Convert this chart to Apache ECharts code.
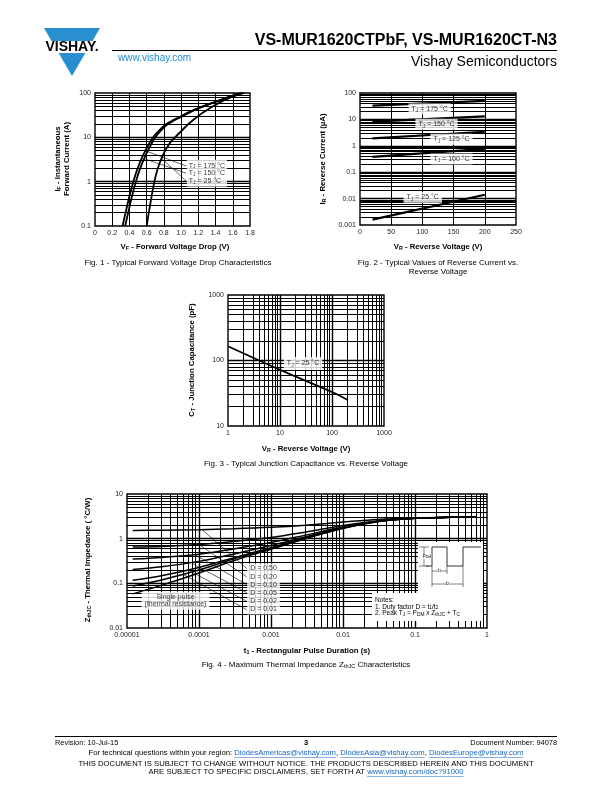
<!DOCTYPE html>
<html><head><meta charset="utf-8">
<script src="https://cdn.jsdelivr.net/npm/echarts@6/dist/echarts.min.js"></script>
<style>html,body{margin:0;padding:0;background:#fff}#c{width:612px;height:792px}</style>
</head><body><div id="c"></div>
<script>
// ---------- Fig. 1 data: forward voltage (V) vs forward current (A) ----------
const fig1XTicks = ['0','0.2','0.4','0.6','0.8','1.0','1.2','1.4','1.6','1.8'];
const fig1YTicks = ['0.1','1','10','100'];
const fig1T175 = [[0.32,0.1],[0.355,0.2],[0.403,0.5],[0.445,1],[0.495,2],[0.56,4],[0.625,7],[0.675,10],[0.74,14],[0.83,20],[1.0,30],[1.13,40],[1.25,50],[1.36,60],[1.46,70],[1.58,85],[1.69,100]];
const fig1T150 = [[0.35,0.1],[0.385,0.2],[0.433,0.5],[0.475,1],[0.525,2],[0.59,4],[0.653,7],[0.70,10],[0.762,14],[0.85,20],[1.015,30],[1.142,40],[1.26,50],[1.37,60],[1.47,70],[1.59,85],[1.70,100]];
const fig1T25  = [[0.60,0.1],[0.625,0.2],[0.66,0.5],[0.69,1],[0.73,2],[0.79,4],[0.86,7],[0.93,10],[1.005,14],[1.085,20],[1.195,30],[1.29,40],[1.37,50],[1.44,60],[1.51,70],[1.62,85],[1.73,100]];
const fig1Labels = ['T{s|J} = 175 °C','T{s|J} = 150 °C','T{s|J} = 25 °C'];
const fig1LabelAnchor = [1.06, 1.55];
const fig1Leaders = [[[0.585,5.0],[1.06,2.25]],[[0.57,3.3],[1.06,1.55]],[[0.77,3.4],[1.06,1.03]]];

// ---------- Fig. 2 data: reverse voltage (V) vs reverse current (uA) ----------
const fig2XTicks = ['0','50','100','150','200','250'];
const fig2YTicks = ['0.001','0.01','0.1','1','10','100'];
const fig2VR = [20, 200];
const fig2I175 = [33, 50];
const fig2I150 = [8.2, 13];
const fig2I125 = [1.9, 3.4];
const fig2I100 = [0.38, 0.76];
const fig2I25  = [0.0016, 0.014];
const fig2Labels = ['T{s|J} = 175 °C','T{s|J} = 150 °C','T{s|J} = 125 °C','T{s|J} = 100 °C','T{s|J} = 25 °C'];
const fig2LabelPos = [[77,24.8],[88,6.5],[112,1.76],[112,0.316],[69,0.0112]];

// ---------- Fig. 3 data: reverse voltage (V) vs capacitance (pF) ----------
const fig3XTicks = ['1','10','100','1000'];
const fig3YTicks = ['10','100','1000'];
const fig3VR = [1, 10, 100, 200];
const fig3C  = [165, 72, 33, 25];
const fig3Label = 'T{s|J} = 25 °C';
const fig3LabelPos = [11.6, 90];

// ---------- Fig. 4 data: pulse duration (s) vs Zth (°C/W) ----------
const fig4XTicks = ['0.00001','0.0001','0.001','0.01','0.1','1'];
const fig4YTicks = ['0.01','0.1','1','10'];
const fig4T     = [1.2e-5, 3e-5, 1e-4, 3e-4, 1e-3, 3e-3, 1e-2, 3e-2, 0.1, 0.3, 0.7];
const fig4D050  = [1.53, 1.55, 1.59, 1.66, 1.79, 2.0, 2.35, 2.7, 2.92, 3.0, 3.05];
const fig4D020  = [0.65, 0.67, 0.74, 0.86, 1.06, 1.4, 1.96, 2.5, 2.87, 3.0, 3.05];
const fig4D010  = [0.35, 0.38, 0.45, 0.59, 0.82, 1.2, 1.83, 2.46, 2.86, 3.0, 3.05];
const fig4D005  = [0.205, 0.235, 0.31, 0.45, 0.70, 1.1, 1.77, 2.43, 2.86, 3.0, 3.05];
const fig4D002  = [0.117, 0.148, 0.227, 0.37, 0.63, 1.04, 1.73, 2.41, 2.85, 3.0, 3.05];
const fig4D001  = [0.087, 0.119, 0.198, 0.35, 0.60, 1.02, 1.71, 2.41, 2.85, 3.0, 3.05];
const fig4Single= [0.058, 0.09, 0.17, 0.32, 0.58, 1.0, 1.7, 2.4, 2.85, 3.0, 3.05];
const fig4DLabels = ['D = 0.50','D = 0.20','D = 0.10','D = 0.05','D = 0.02','D = 0.01'];
const fig4DLabelAnchor = [4.6e-4, 0.0746];
const fig4LeaderStart = [[1.1e-4,1.6],[1.0e-4,0.74],[9e-5,0.43],[8e-5,0.28],[7e-5,0.2],[6e-5,0.16]];
const fig4LeaderEnd = [[4.6e-4,0.216],[4.6e-4,0.14],[4.6e-4,0.094],[4.6e-4,0.062],[4.6e-4,0.0396],[4.6e-4,0.0257]];
const fig4SingleLabel = 'Single pulse\n(thermal resistance)';
const fig4SingleLabelPos = [4.72e-5, 0.0407];

// ---------- helpers ----------
const FF = '"Liberation Sans", Arial, Helvetica, sans-serif';
const zip = (xs, ys) => xs.map((x, i) => [x, ys[i]]);
const RICH = { s: { fontSize: 5, lineHeight: 5, verticalAlign: 'bottom', fontFamily: FF, color: '#000' } };
const RICHB = { s: { fontSize: 5.3, lineHeight: 5, verticalAlign: 'bottom', fontFamily: FF, fontWeight: 'bold', color: '#000' } };

function logVals(lo, hi) { // interior grid values between 10^lo and 10^hi
  const out = [];
  for (let e = lo; e < hi; e++) for (let k = 1; k <= 9; k++) {
    if (k === 1 && e === lo) continue;
    out.push({ v: Number((k * Math.pow(10, e)).toPrecision(3)), major: k === 1 });
  }
  return out;
}
function linVals(list) { return list.map(v => ({ v, major: false })); }
function gridSeries(idx, xs, ys) {
  const data = [];
  xs.forEach(o => data.push({ xAxis: o.v, lineStyle: { width: o.major ? 1.4 : 1 } }));
  ys.forEach(o => data.push({ yAxis: o.v, lineStyle: { width: o.major ? 1.4 : 1 } }));
  return { type: 'line', xAxisIndex: idx, yAxisIndex: idx, data: [], z: 1, silent: true,
    markLine: { z: 1, silent: true, precision: 12, symbol: ['none', 'none'], animation: false, label: { show: false },
      emphasis: { disabled: true }, lineStyle: { color: '#000', type: 'solid', width: 1 }, data } };
}
function curve(idx, data, w, sm) {
  return { type: 'line', xAxisIndex: idx, yAxisIndex: idx, data, z: 3, showSymbol: false, symbol: 'none',
    smooth: sm == null ? 0.3 : sm, silent: true, lineStyle: { color: '#000', width: w || 1.8 }, emphasis: { disabled: true } };
}
function leader(idx, a, b) {
  return { type: 'line', xAxisIndex: idx, yAxisIndex: idx, data: [a, b], z: 4, symbol: 'none', silent: true,
    lineStyle: { color: '#000', width: 0.6 }, emphasis: { disabled: true } };
}
function label(idx, pos, text, opt) {
  opt = opt || {};
  return { type: 'scatter', xAxisIndex: idx, yAxisIndex: idx, z: 6, symbolSize: 1, silent: true,
    itemStyle: { color: 'rgba(0,0,0,0)' }, data: [pos],
    label: { show: true, position: opt.position || 'right', distance: 0, formatter: text,
      color: '#000', fontSize: opt.fontSize || 7, fontFamily: FF, lineHeight: opt.lineHeight || 9,
      backgroundColor: '#fff', padding: opt.padding || [1, 2], align: opt.align, rich: RICH } };
}
const axisLab = (fmt) => ({ show: true, fontSize: 7, color: '#222', fontFamily: FF, margin: 4, formatter: fmt, showMinLabel: true, showMaxLabel: true });
const logFmt = (labels, lo) => (v) => labels[Math.round(Math.log10(v)) - lo] || '';
const hid = { axisLine: { show: false }, axisTick: { show: false }, splitLine: { show: false }, minorTick: { show: false } };
const gridBase = { show: true, borderColor: '#000', borderWidth: 1.4, backgroundColor: 'transparent', containLabel: false, outerBoundsMode: 'none' };

// ---------- text measuring for footer ----------
const mctx = document.createElement('canvas').getContext('2d');
function tw(s, size, bold) { mctx.font = (bold ? 'bold ' : '') + size + 'px ' + FF; return mctx.measureText(s).width; }

const graphics = [];
function txt(x, y, text, o) {
  o = o || {};
  graphics.push({ type: 'text', x, y, rotation: o.rot || 0, z: 10, silent: true,
    style: { text, fill: o.fill || '#000', font: (o.bold ? 'bold ' : '') + (o.size || 7) + 'px ' + FF,
      align: o.align || 'center', verticalAlign: o.va || 'middle', rich: o.rich, lineHeight: o.lh,
      backgroundColor: o.bg, padding: o.pad } });
}
function line(x1, y1, x2, y2, w, color) {
  graphics.push({ type: 'line', z: 10, silent: true, shape: { x1, y1, x2, y2 }, style: { stroke: color || '#000', lineWidth: w || 1 } });
}
function rect(x, y, w, h) {
  graphics.push({ type: 'rect', z: 9, silent: true, shape: { x, y, width: w, height: h }, style: { fill: '#fff' } });
}

// ---------- header ----------
const BLUE = '#2a8fd0';
graphics.push({ type: 'polygon', z: 10, silent: true, shape: { points: [[44,28],[100,28],[92.5,41],[51.5,41]] }, style: { fill: BLUE } });
graphics.push({ type: 'polygon', z: 10, silent: true, shape: { points: [[58.6,53],[85.4,53],[72,76]] }, style: { fill: BLUE } });
txt(72, 47, 'VISHAY.', { bold: true, size: 14 });
txt(557, 41, 'VS-MUR1620CTPbF, VS-MUR1620CT-N3', { bold: true, size: 16, align: 'right' });
line(112, 50.5, 557, 50.5, 1);
txt(118, 58, 'www.vishay.com', { size: 10, fill: '#1c8ad8', align: 'left' });
txt(557, 62, 'Vishay Semiconductors', { size: 14, align: 'right' });

// ---------- chart titles / captions ----------
const RB = { rich: RICHB };
const TS = 7.8, CS = 8;
txt(175, 247, 'V{s|F} - Forward Voltage Drop (V)', { bold: true, size: TS, ...RB });
txt(178, 263, 'Fig. 1 - Typical Forward Voltage Drop Characteristics', { size: CS });
txt(58, 159, 'I{s|F} - Instantaneous', { bold: true, size: TS, rot: Math.PI / 2, ...RB });
txt(67, 159, 'Forward Current (A)', { bold: true, size: TS, rot: Math.PI / 2 });

txt(438, 247, 'V{s|R} - Reverse Voltage (V)', { bold: true, size: TS, ...RB });
txt(438, 263, 'Fig. 2 - Typical Values of Reverse Current vs.', { size: CS });
txt(438, 272, 'Reverse Voltage', { size: CS });
txt(323, 159, 'I{s|R} - Reverse Current (µA)', { bold: true, size: TS, rot: Math.PI / 2, ...RB });

txt(306, 449, 'V{s|R} - Reverse Voltage (V)', { bold: true, size: TS, ...RB });
txt(306, 464, 'Fig. 3 - Typical Junction Capacitance vs. Reverse Voltage', { size: CS });
txt(192, 360, 'C{s|T} - Junction Capacitance (pF)', { bold: true, size: TS, rot: Math.PI / 2, ...RB });

txt(307, 651, 't{s|1} - Rectangular Pulse Duration (s)', { bold: true, size: TS, ...RB });
txt(306, 665, 'Fig. 4 - Maximum Thermal Impedance Z{s|thJC} Characteristics', { size: CS, rich: { s: { fontSize: 5.5, lineHeight: 5, verticalAlign: 'bottom', fontFamily: FF } } });
txt(88, 560, 'Z{s|thJC} - Thermal Impedance ( °C/W)', { bold: true, size: TS, rot: Math.PI / 2, ...RB });

// ---------- Fig. 4 inset (waveform + notes) ----------
rect(418, 542, 65, 52);
rect(372, 593, 111, 28);
graphics.push({ type: 'polyline', z: 10, silent: true, shape: { points: [[426,566],[432,566],[432,547],[447,547],[447,566],[463,566],[463,547],[481,547]] }, style: { stroke: '#000', lineWidth: 0.8, fill: null } });
line(419, 547, 429, 547, 0.5); line(419, 566, 429, 566, 0.5); line(424, 547, 424, 566, 0.5);
const RS = { s: { fontSize: 3.5, lineHeight: 4, verticalAlign: 'bottom', fontFamily: FF } };
txt(427, 556.5, 'P{s|DM}', { size: 4.5, bg: '#fff', rich: RS });
line(432, 566, 432, 587, 0.5); line(447, 566, 447, 574, 0.5); line(463, 566, 463, 587, 0.5);
line(432, 571, 447, 571, 0.5); line(432, 584, 463, 584, 0.5);
txt(439.5, 571, 't{s|1}', { size: 5, bg: '#fff', rich: RS });
txt(447.5, 584, 't{s|2}', { size: 5, bg: '#fff', rich: RS });
const RN = { s: { fontSize: 4.8, lineHeight: 4.8, verticalAlign: 'bottom', fontFamily: FF } };
txt(375, 600.5, 'Notes:', { size: 6.5, align: 'left' });
txt(375, 607, '1. Duty factor D = t{s|1}/t{s|2}', { size: 6.5, align: 'left', rich: RN });
txt(375, 613.5, '2. Peak T{s|J} = P{s|DM} x Z{s|thJC} + T{s|C}', { size: 6.5, align: 'left', rich: RN });

// ---------- footer ----------
const FS = 7.7;
line(55, 736.5, 557, 736.5, 1);
txt(55, 743, 'Revision: 10-Jul-15', { size: 7.4, align: 'left' });
txt(306, 743, '3', { size: 7.4, bold: true });
txt(557, 743, 'Document Number: 94078', { size: 7.4, align: 'right' });
const LINK = '#1565c0';
(function () {
  const parts = [['For technical questions within your region: ', 0], ['DiodesAmericas@vishay.com', 1], [', ', 0], ['DiodesAsia@vishay.com', 1], [', ', 0], ['DiodesEurope@vishay.com', 1]];
  const total = parts.reduce((a, p) => a + tw(p[0], FS), 0);
  let x = 306 - total / 2;
  parts.forEach(p => {
    const w = tw(p[0], FS);
    txt(x, 753, p[0], { size: FS, align: 'left', fill: p[1] ? LINK : '#000' });
    if (p[1]) line(x, 757.5, x + w, 757.5, 0.5, LINK);
    x += w;
  });
  txt(306, 763.5, 'THIS DOCUMENT IS SUBJECT TO CHANGE WITHOUT NOTICE. THE PRODUCTS DESCRIBED HEREIN AND THIS DOCUMENT', { size: FS });
  const a = 'ARE SUBJECT TO SPECIFIC DISCLAIMERS, SET FORTH AT ', b = 'www.vishay.com/doc?91000';
  const t2 = tw(a, FS) + tw(b, FS);
  let x2 = 306 - t2 / 2;
  txt(x2, 772, a, { size: FS, align: 'left' });
  x2 += tw(a, FS);
  txt(x2, 772, b, { size: FS, align: 'left', fill: LINK });
  line(x2, 776.5, x2 + tw(b, FS), 776.5, 0.5, LINK);
})();

// ---------- chart ----------
const chart = echarts.init(document.getElementById('c'), null, { renderer: 'canvas', width: 612, height: 792 });
const series = [
  gridSeries(0, linVals([0.2,0.4,0.6,0.8,1.0,1.2,1.4,1.6]), logVals(-1, 2)),
  gridSeries(1, linVals([50,100,150,200]), logVals(-3, 2)),
  gridSeries(2, logVals(0, 3), logVals(1, 3)),
  gridSeries(3, logVals(-5, 0), logVals(-2, 1)),
  // Fig 1
  curve(0, fig1T175), curve(0, fig1T150), curve(0, fig1T25),
  ...fig1Leaders.map(l => leader(0, l[0], l[1])),
  label(0, fig1LabelAnchor, fig1Labels.join('\n'), { lineHeight: 7.6, padding: [2, 2] }),
  // Fig 2
  curve(1, zip(fig2VR, fig2I175), 2.2), curve(1, zip(fig2VR, fig2I150), 2.2), curve(1, zip(fig2VR, fig2I125), 2.2),
  curve(1, zip(fig2VR, fig2I100), 2.2), curve(1, zip(fig2VR, fig2I25), 2.2),
  ...fig2Labels.map((t, i) => label(1, fig2LabelPos[i], t, { padding: [1, 3] })),
  // Fig 3
  curve(2, zip(fig3VR, fig3C), 1.8),
  label(2, fig3LabelPos, fig3Label, { padding: [2, 3] }),
  // Fig 4
  ...[fig4D050, fig4D020, fig4D010, fig4D005, fig4D002, fig4D001, fig4Single].map(d => curve(3, zip(fig4T, d), 1.5)),
  ...fig4LeaderStart.map((s, i) => leader(3, s, fig4LeaderEnd[i])),
  label(3, fig4DLabelAnchor, fig4DLabels.join('\n'), { lineHeight: 8.2, padding: [1, 3] }),
  label(3, fig4SingleLabelPos, fig4SingleLabel, { position: 'inside', lineHeight: 7, padding: [2, 3] })
];
chart.setOption({
  animation: false,
  backgroundColor: '#fff',
  grid: [
    { ...gridBase, left: 95, top: 93, width: 155, height: 133 },
    { ...gridBase, left: 360, top: 93, width: 156, height: 132 },
    { ...gridBase, left: 228, top: 295, width: 156, height: 131 },
    { ...gridBase, left: 127, top: 494, width: 360, height: 134 }
  ],
  xAxis: [
    { gridIndex: 0, type: 'value', min: 0, max: 1.8, interval: 0.2, ...hid, axisLabel: axisLab(v => fig1XTicks[Math.round(v / 0.2)]) },
    { gridIndex: 1, type: 'value', min: 0, max: 250, interval: 50, ...hid, axisLabel: axisLab(v => fig2XTicks[Math.round(v / 50)]) },
    { gridIndex: 2, type: 'log', logBase: 10, min: 1, max: 1000, ...hid, axisLabel: axisLab(logFmt(fig3XTicks, 0)) },
    { gridIndex: 3, type: 'log', logBase: 10, min: 0.00001, max: 1, ...hid, axisLabel: axisLab(logFmt(fig4XTicks, -5)) }
  ],
  yAxis: [
    { gridIndex: 0, type: 'log', logBase: 10, min: 0.1, max: 100, ...hid, axisLabel: axisLab(logFmt(fig1YTicks, -1)) },
    { gridIndex: 1, type: 'log', logBase: 10, min: 0.001, max: 100, ...hid, axisLabel: axisLab(logFmt(fig2YTicks, -3)) },
    { gridIndex: 2, type: 'log', logBase: 10, min: 10, max: 1000, ...hid, axisLabel: axisLab(logFmt(fig3YTicks, 1)) },
    { gridIndex: 3, type: 'log', logBase: 10, min: 0.01, max: 10, ...hid, axisLabel: axisLab(logFmt(fig4YTicks, -2)) }
  ],
  series,
  graphic: graphics
});
</script>
</body></html>
